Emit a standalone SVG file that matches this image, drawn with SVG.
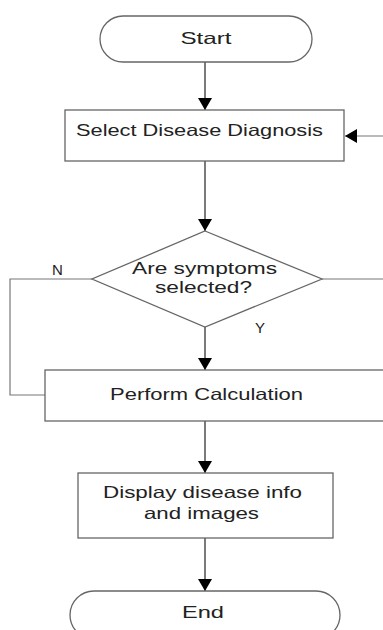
<svg xmlns="http://www.w3.org/2000/svg" width="383" height="630" viewBox="0 0 383 630">
<style>
.shape{fill:#fff;stroke:#666;stroke-width:1.3}
.conn{fill:none;stroke:#333;stroke-width:1.3}
.thin{fill:none;stroke:#777;stroke-width:1.2}
text{font-family:"Liberation Sans",Arial,sans-serif;font-size:16.5px;fill:#222;text-anchor:middle}
.lbl{font-size:15px;text-anchor:start}
</style>
<defs>
<marker id="arr" markerUnits="userSpaceOnUse" markerWidth="14" markerHeight="14" refX="12" refY="7" orient="auto">
<path d="M0,0 L12,7 L0,14 z" fill="#000"/>
</marker>
</defs>
<rect width="383" height="630" fill="#fff"/>
<g id="connectors">
<line class="conn" x1="205" y1="62" x2="205" y2="110" marker-end="url(#arr)"/>
<line class="conn" x1="205" y1="161" x2="205" y2="231" marker-end="url(#arr)"/>
<line class="conn" x1="205" y1="327" x2="205" y2="370" marker-end="url(#arr)"/>
<line class="conn" x1="205" y1="421" x2="205" y2="473" marker-end="url(#arr)"/>
<line class="conn" x1="205" y1="538" x2="205" y2="591" marker-end="url(#arr)"/>
<line class="thin" x1="400" y1="136" x2="345" y2="136" marker-end="url(#arr)"/>
<line class="thin" x1="322" y1="279" x2="400" y2="279"/>
<polyline class="thin" points="92,279 10,279 10,395 45,395"/>
<text class="lbl" x="52" y="275">N</text>
<text class="lbl" x="255" y="333">Y</text>
</g>
<g id="start">
<rect class="shape" x="100" y="16" width="212" height="46" rx="23" ry="23"/>
<text x="206" y="44" textLength="51" lengthAdjust="spacingAndGlyphs">Start</text>
</g>
<g id="select">
<rect class="shape" x="65" y="110" width="279" height="51"/>
<text x="199.5" y="136" textLength="247" lengthAdjust="spacingAndGlyphs">Select Disease Diagnosis</text>
</g>
<g id="decision">
<polygon class="shape" points="205,231 322,279 205,327 92,279"/>
<text x="204.5" y="274" textLength="145" lengthAdjust="spacingAndGlyphs">Are symptoms</text>
<text x="203.5" y="293" textLength="97" lengthAdjust="spacingAndGlyphs">selected?</text>
</g>
<g id="perform">
<rect class="shape" x="45" y="370" width="350" height="51"/>
<text x="206.5" y="400" textLength="193" lengthAdjust="spacingAndGlyphs">Perform Calculation</text>
</g>
<g id="display">
<rect class="shape" x="78" y="473" width="255" height="65"/>
<text x="202.5" y="498" textLength="199" lengthAdjust="spacingAndGlyphs">Display disease info</text>
<text x="201.5" y="519" textLength="115" lengthAdjust="spacingAndGlyphs">and images</text>
</g>
<g id="end">
<rect class="shape" x="70" y="591" width="270" height="48" rx="24" ry="24"/>
<text x="203" y="618" textLength="42" lengthAdjust="spacingAndGlyphs">End</text>
</g>
</svg>
